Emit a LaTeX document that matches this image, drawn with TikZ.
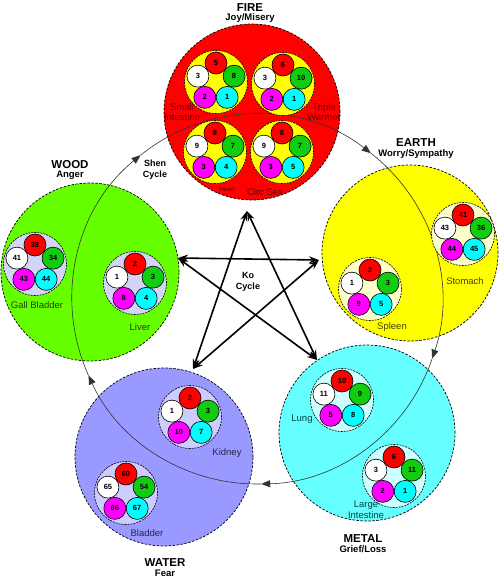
\documentclass[tikz,border=0pt]{standalone}
\usepackage{fontspec}
\setmainfont{Liberation Sans}
\usetikzlibrary{arrows.meta}
\definecolor{firec}{HTML}{FF0000}
\definecolor{earthc}{HTML}{FFFF00}
\definecolor{woodc}{HTML}{66FF00}
\definecolor{metalc}{HTML}{66FFFF}
\definecolor{waterc}{HTML}{9999FF}
\definecolor{clfire}{HTML}{FFFF00}
\definecolor{clearth}{HTML}{FFFFCC}
\definecolor{clwood}{HTML}{D4D4F6}
\definecolor{clmetal}{HTML}{CCFFFF}
\definecolor{clwater}{HTML}{CCCCFF}
\definecolor{bred}{HTML}{FF0000}
\definecolor{bgrn}{HTML}{11CC11}
\definecolor{bcyn}{HTML}{00FFFF}
\definecolor{bmag}{HTML}{FF00FF}
\definecolor{tfire}{HTML}{660000}
\definecolor{tearth}{HTML}{444400}
\definecolor{twood}{HTML}{224400}
\definecolor{tmetal}{HTML}{004444}
\definecolor{twater}{HTML}{262650}
\tikzset{
  elem/.style={circle, draw=black, line width=0.7pt, dash pattern=on 2.5pt off 1.5pt, inner sep=0pt},
  cluster/.style={circle, draw=black, line width=0.6pt, dash pattern=on 2pt off 1pt, minimum size=63pt, inner sep=0pt},
  ball/.style={circle, draw=black, line width=0.6pt, minimum size=22pt, inner sep=0pt, font=\bfseries\fontsize{7.5}{8}\selectfont},
  eltitle/.style={font=\bfseries\fontsize{11.5}{12}\selectfont, inner sep=0pt},
  elsub/.style={font=\bfseries\fontsize{9.5}{10}\selectfont, inner sep=0pt},
  organlbl/.style={font=\fontsize{9.5}{10.5}\selectfont, inner sep=0pt, align=center},
  cyclelbl/.style={font=\bfseries\fontsize{9}{11}\selectfont, inner sep=0pt, align=center},
  shen/.style={line width=0.6pt, draw=black!80, -{Triangle[length=9pt,width=7pt]}},
  ko/.style={line width=1.6pt, {Stealth[length=10pt,width=7pt]}-{Stealth[length=10pt,width=7pt]}},
}
% #1 name, #2 center, #3 fill, #4 red, #5 green, #6 cyan, #7 magenta, #8 white
\newcommand{\organset}[8]{%
  \node[cluster, fill=#3] (#1) at (#2) {};
  \foreach \ang/\col/\num/\k in {-90/bred/#4/a, -18/bgrn/#5/b, 54/bcyn/#6/c, 126/bmag/#7/d, 198/white/#8/e}
    \node[ball, fill=\col] (#1\k) at ([shift={(#2)}]\ang:19) {\num};
}
\begin{document}
\begin{tikzpicture}[x=1pt,y=-1pt]
\useasboundingbox (0,0) rectangle (500,579);
\fill[white] (0,0) rectangle (500,579);

% element circles
\node[elem, fill=firec, minimum size=176pt] (fire) at (252,112) {};
\node[elem, fill=earthc, minimum size=176pt] (earth) at (410,253) {};
\node[elem, fill=woodc, minimum size=178pt] (wood) at (90,272) {};
\node[elem, fill=metalc, minimum size=176pt] (metal) at (367,433) {};
\node[elem, fill=waterc, minimum size=178pt] (water) at (164,457) {};

% Shen cycle
\coordinate (shc) at (257,299);
\coordinate (sWa) at ([shift={(257,299)}]155.6:185);
\coordinate (sWo) at ([shift={(257,299)}]231.0:185);
\coordinate (sFi) at ([shift={(257,299)}]308.0:185);
\coordinate (sEa) at ([shift={(257,299)}]378.8:185);
\coordinate (sMe) at ([shift={(257,299)}]448.7:185);
\draw[shen] (sWa) arc[start angle=155.6, end angle=231.0, radius=185];
\draw[shen] (sWo) arc[start angle=231.0, end angle=308.0, radius=185];
\draw[shen] (sFi) arc[start angle=308.0, end angle=378.8, radius=185];
\draw[shen] (sEa) arc[start angle=378.8, end angle=448.7, radius=185];
\draw[shen] (sMe) arc[start angle=448.7, end angle=515.6, radius=185];

% organ clusters
\organset{si}{216,82}{clfire}{5}{8}{1}{2}{3}
\organset{tw}{283,84}{clfire}{6}{10}{1}{2}{3}
\organset{ht}{215,152}{clfire}{8}{7}{4}{3}{9}
\organset{cs}{282,152}{clfire}{8}{7}{5}{3}{9}
\organset{st}{463,234}{clearth}{41}{36}{45}{44}{43}
\organset{sp}{370,289}{clearth}{2}{3}{5}{9}{1}
\organset{gb}{35,264}{clwood}{38}{34}{44}{43}{41}
\organset{lv}{135,283}{clwood}{2}{3}{4}{8}{1}
\organset{lu}{342,400}{clmetal}{10}{9}{8}{5}{11}
\organset{li}{394,476}{clmetal}{6}{11}{1}{2}{3}
\organset{kd}{190,417}{clwater}{2}{3}{7}{10}{1}
\organset{bl}{126,493}{clwater}{60}{54}{67}{66}{65}

% organ labels
\node[organlbl, text=tfire] (lsi) at (182,112) {Small\\Intestine};
\node[organlbl, text=tfire] (ltw) at (324,112) {Triple\\Warmer};
\node[organlbl, text=tfire, font=\fontsize{6}{7}\selectfont] (lht) at (227,189) {Heart};
\node[organlbl, text=tfire] (lcs) at (265,192) {Circ Sex};
\node[organlbl, text=tearth] (lst) at (465,281) {Stomach};
\node[organlbl, text=tearth] (lsp) at (392,327) {Spleen};
\node[organlbl, text=twood] (lgb) at (37,305) {Gall Bladder};
\node[organlbl, text=twood] (llv) at (140,327) {Liver};
\node[organlbl, text=tmetal] (llu) at (302,419) {Lung};
\node[organlbl, text=tmetal] (lli) at (366,510) {Large\\Intestine};
\node[organlbl, text=twater] (lkd) at (227,453) {Kidney};
\node[organlbl, text=twater] (lbl) at (147,533) {Bladder};

% element titles
\node[eltitle] (tfire) at (250,8) {FIRE};
\node[elsub] (sfire) at (250,18.5) {Joy/Misery};
\node[eltitle] (tearth) at (416,143) {EARTH};
\node[elsub] (searth) at (416,154) {Worry/Sympathy};
\node[eltitle] (twood) at (70,165) {WOOD};
\node[elsub] (swood) at (70,175.5) {Anger};
\node[eltitle] (tmetal) at (363,538.5) {METAL};
\node[elsub] (smetal) at (363,549.5) {Grief/Loss};
\node[eltitle] (twater) at (165,562.5) {WATER};
\node[elsub] (swater) at (165,573) {Fear};

% cycle labels
\node[cyclelbl] (shenlbl) at (155,170) {Shen\\Cycle};
\node[cyclelbl] (kolbl) at (248,282) {Ko\\Cycle};

% Ko cycle star
\coordinate (kF) at (247,211);
\coordinate (kE) at (319,260);
\coordinate (kM) at (317,360);
\coordinate (kWa) at (193,369);
\coordinate (kWo) at (178,258);
\draw[ko] (kF) -- (kM);
\draw[ko] (kF) -- (kWa);
\draw[ko] (kWo) -- (kE);
\draw[ko] (kWo) -- (kM);
\draw[ko] (kE) -- (kWa);
\end{tikzpicture}
\end{document}
